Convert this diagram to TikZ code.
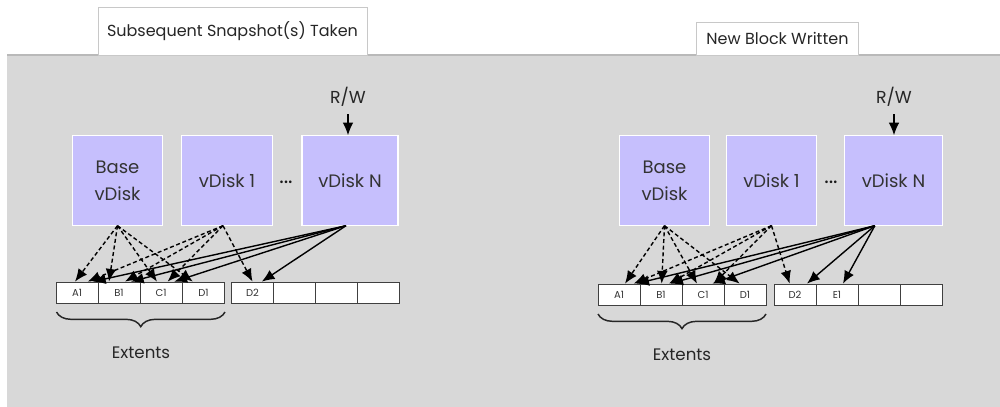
\documentclass[tikz,border=0pt]{standalone}
\usepackage{fontspec}
\setmainfont{Poppins}
\usetikzlibrary{arrows.meta,decorations.pathreplacing,calc}
\definecolor{panelgray}{RGB}{216,216,216}
\definecolor{panelline}{RGB}{185,185,185}
\definecolor{tabline}{RGB}{200,200,200}
\definecolor{disk}{RGB}{198,191,253}
\tikzset{
  tabbox/.style={draw=tabline,fill=white,line width=0.6pt,inner sep=0pt,font=\fontsize{12}{14}\selectfont,text=black!85},
  diskbox/.style={draw=white,fill=disk,line width=0.8pt,minimum width=68pt,minimum height=67pt,inner sep=0pt,align=center,font=\fontsize{13.5}{20.5}\selectfont,text=black!80},
  cell/.style={draw=black!75,fill=white,line width=0.6pt,minimum width=31.5pt,minimum height=15.75pt,inner sep=0pt,font=\fontsize{7.5}{8}\selectfont,text=black!80},
  lbl/.style={font=\fontsize{12.5}{14}\selectfont,text=black!85},
  ellip/.style={font=\fontsize{16}{18}\selectfont,text=black!90},
  ref/.style={line width=1.05pt,-{Latex[length=9.5pt,width=8pt]}},
  oldref/.style={ref,dashed,dash pattern=on 3pt off 2pt},
  extbrace/.style={decorate,decoration={brace,mirror,amplitude=11pt},line width=1.1pt,black!85},
}
\begin{document}
\begin{tikzpicture}[x=0.75pt,y=-0.75pt]
\useasboundingbox (0,0) rectangle (1000,407);
% panel background
\fill[panelgray] (7,55) rectangle (1000,407);
\draw[panelline,line width=0.8pt] (7,55) -- (1000,55);

% tabs
\node[tabbox,minimum width=201.75pt,minimum height=36pt] (tabA) at (232.5,31) {Subsequent Snapshot(s) Taken};
\node[tabbox,minimum width=122pt,minimum height=24.75pt] (tabB) at (777.5,38.5) {New Block Written};

% ---------- left: subsequent snapshots ----------
\node[diskbox] (baseL) at (117.5,180.5) {Base\\vDisk};
\node[diskbox] (oneL) at (227,180.5) {vDisk 1};
\node[diskbox,minimum width=72pt] (nL) at (350,180.5) {vDisk N};
\node[ellip] (dotsL) at (286,182) {...};
\node[lbl,font=\fontsize{13}{15}\selectfont] (rwL) at (348,97) {R/W};
\draw[ref] (rwL.south) ++(0,-2pt) coordinate (rwLs) -- (nL.north -| rwLs);

\node[cell] (a1L) at (77,292.5) {A1};
\node[cell] (b1L) at (119,292.5) {B1};
\node[cell] (c1L) at (161,292.5) {C1};
\node[cell] (d1L) at (203.5,292.5) {D1};
\node[cell] (d2L) at (252.5,292.5) {D2};
\node[cell] (x1L) at (294.5,292.5) {};
\node[cell] (x2L) at (336.5,292.5) {};
\node[cell] (x3L) at (378.5,292.5) {};

\draw[oldref] (baseL.south) -- ([xshift=-1.5pt]a1L.north);
\draw[oldref] (baseL.south) -- ([xshift=-7.5pt]b1L.north);
\draw[oldref] (baseL.south) -- ([xshift=-3pt]c1L.north);
\draw[oldref] (baseL.south) -- ([xshift=-8pt]d1L.north);
\draw[oldref] ([xshift=-3pt]oneL.south) -- ([xshift=8pt]a1L.north);
\draw[oldref] ([xshift=-3pt]oneL.south) -- ([xshift=4.5pt]b1L.north);
\draw[oldref] ([xshift=-3pt]oneL.south) -- ([xshift=5pt]c1L.north);
\draw[oldref] ([xshift=-3pt]oneL.south) -- (d2L.north);
\draw[ref] ([xshift=-3pt]nL.south) -- ([xshift=12pt]a1L.north);
\draw[ref] ([xshift=-3pt]nL.south) -- ([xshift=9pt]b1L.north);
\draw[ref] ([xshift=-3pt]nL.south) -- ([xshift=10pt]c1L.north);
\draw[ref] ([xshift=-3pt]nL.south) -- ([xshift=7pt]d2L.north);

\coordinate (brLa) at (56.5,312);
\coordinate (brLb) at (225,312);
\draw[extbrace] (brLa) -- (brLb);
\node[lbl] (extL) at (141,353) {Extents};

% ---------- right: new block written ----------
\node[diskbox] (baseR) at (664.5,180.5) {Base\\vDisk};
\node[diskbox] (oneR) at (771.5,180.5) {vDisk 1};
\node[diskbox,minimum width=74pt] (nR) at (893.5,180.5) {vDisk N};
\node[ellip] (dotsR) at (831,182) {...};
\node[lbl,font=\fontsize{13}{15}\selectfont] (rwR) at (894,97) {R/W};
\draw[ref] (rwR.south) ++(0,-2pt) coordinate (rwRs) -- (nR.north -| rwRs);

\node[cell] (a1R) at (619,294.5) {A1};
\node[cell] (b1R) at (661,294.5) {B1};
\node[cell] (c1R) at (703,294.5) {C1};
\node[cell] (d1R) at (745,294.5) {D1};
\node[cell] (d2R) at (795,294.5) {D2};
\node[cell] (e1R) at (837,294.5) {E1};
\node[cell] (x1R) at (879,294.5) {};
\node[cell] (x2R) at (921.5,294.5) {};

\draw[oldref] (baseR.south) -- ([xshift=4.5pt]a1R.north);
\draw[oldref] (baseR.south) -- ([xshift=0.5pt]b1R.north);
\draw[oldref] (baseR.south) -- ([xshift=-4.5pt]c1R.north);
\draw[oldref] (baseR.south) -- ([xshift=-4pt]d1R.north);
\draw[oldref] (oneR.south) -- ([xshift=11pt]a1R.north);
\draw[oldref] (oneR.south) -- ([xshift=6pt]b1R.north);
\draw[oldref] (oneR.south) -- ([xshift=8pt]c1R.north);
\draw[oldref] (oneR.south) -- ([xshift=-4pt]d2R.north);
\draw[ref] ([xshift=-14pt]nR.south) -- ([xshift=13pt]a1R.north);
\draw[ref] ([xshift=-14pt]nR.south) -- ([xshift=7pt]b1R.north);
\draw[ref] ([xshift=-14pt]nR.south) -- ([xshift=7pt]c1R.north);
\draw[ref] ([xshift=-14pt]nR.south) -- ([xshift=9pt]d2R.north);
\draw[ref] ([xshift=-14pt]nR.south) -- ([xshift=4.5pt]e1R.north);

\coordinate (brRa) at (598,314);
\coordinate (brRb) at (766,314);
\draw[extbrace] (brRa) -- (brRb);
\node[lbl] (extR) at (682,355) {Extents};
\end{tikzpicture}
\end{document}
